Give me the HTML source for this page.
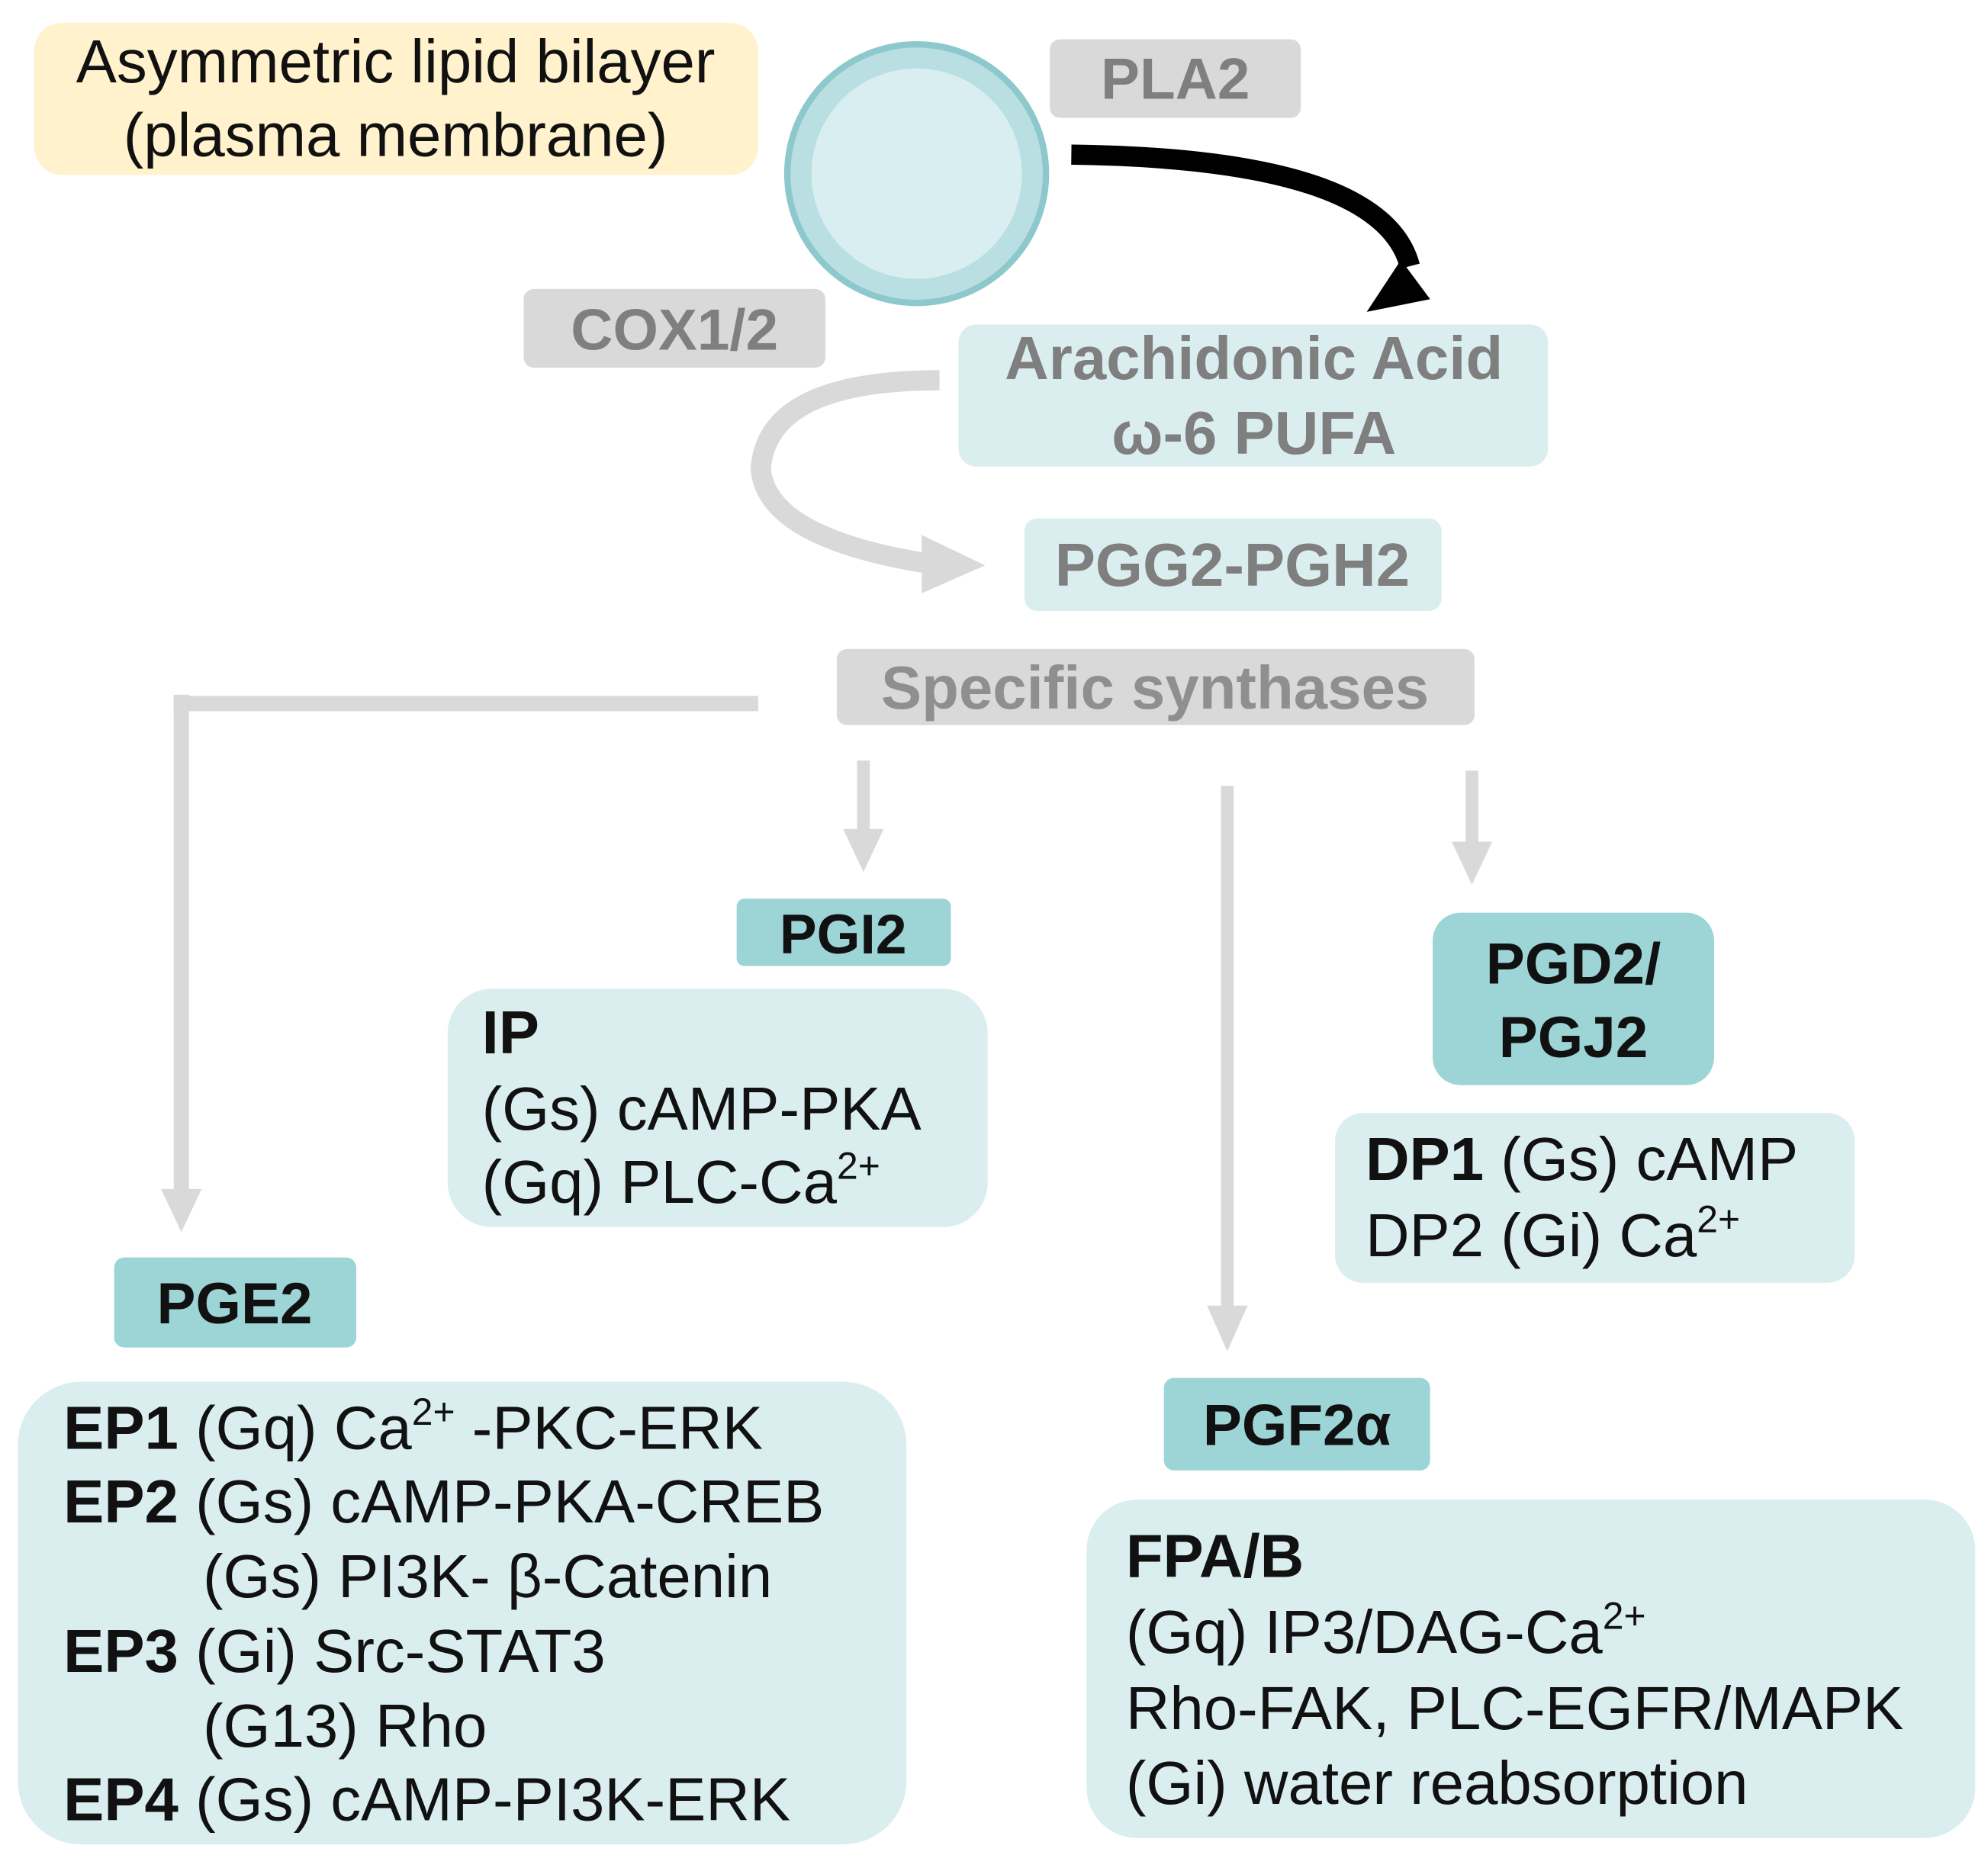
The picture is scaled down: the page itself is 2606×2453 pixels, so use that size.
<!DOCTYPE html>
<html><head><meta charset="utf-8"><style>html,body{margin:0;padding:0;background:#fff}svg{display:block}</style></head>
<body>
<svg width="2606" height="2453" viewBox="0 0 1568 1476" xmlns="http://www.w3.org/2000/svg" font-family="Liberation Sans, Arial, sans-serif">
<rect x="27" y="18" width="571" height="120" rx="22" fill="#fff2cc"/>
<text x="312" y="65" font-size="48" text-anchor="middle" fill="#111">Asymmetric lipid bilayer</text>
<text x="312" y="123" font-size="48" text-anchor="middle" fill="#111">(plasma membrane)</text>
<circle cx="723" cy="137" r="102" fill="#b9dfe2" stroke="#8cc8cc" stroke-width="5"/>
<circle cx="723" cy="137" r="83" fill="#d9eef0"/>
<rect x="828" y="31" width="198" height="62" rx="8" fill="#d9d9d9"/>
<text x="927" y="78" font-size="46" font-weight="bold" text-anchor="middle" fill="#7f7f7f">PLA2</text>
<path d="M845,122 Q1090,125 1112,210" fill="none" stroke="#000" stroke-width="16"/>
<polygon points="1078,246 1128,236 1105,205" fill="#000"/>
<rect x="413" y="228" width="238" height="62" rx="8" fill="#d9d9d9"/>
<text x="532" y="276" font-size="46" font-weight="bold" text-anchor="middle" fill="#7f7f7f">COX1/2</text>
<rect x="756" y="256" width="465" height="112" rx="14" fill="#daeef0"/>
<text x="989" y="299" font-size="48" font-weight="bold" text-anchor="middle" fill="#7f7f7f">Arachidonic Acid</text>
<text x="989" y="358" font-size="48" font-weight="bold" text-anchor="middle" fill="#7f7f7f">ω-6 PUFA</text>
<path d="M741,300 Q605,300 600,370 Q605,425 735,445" fill="none" stroke="#d9d9d9" stroke-width="16"/>
<polygon points="727,422 777,446 727,468" fill="#d9d9d9"/>
<rect x="808" y="409" width="329" height="73" rx="10" fill="#daeef0"/>
<text x="972" y="462" font-size="48" font-weight="bold" text-anchor="middle" fill="#7f7f7f">PGG2-PGH2</text>
<rect x="660" y="512" width="503" height="60" rx="8" fill="#d9d9d9"/>
<text x="911" y="559" font-size="48" font-weight="bold" text-anchor="middle" fill="#8f8f8f">Specific synthases</text>
<path d="M598,555 L143,555 L143,945" fill="none" stroke="#d9d9d9" stroke-width="12"/>
<line x1="143" y1="548" x2="143" y2="562" stroke="#d9d9d9" stroke-width="12"/>
<polygon points="127,938 159,938 143,972" fill="#d9d9d9"/>
<line x1="681" y1="600" x2="681" y2="660" stroke="#d9d9d9" stroke-width="10"/>
<polygon points="665,654 697,654 681,688" fill="#d9d9d9"/>
<line x1="968" y1="620" x2="968" y2="1035" stroke="#d9d9d9" stroke-width="10"/>
<polygon points="952,1030 984,1030 968,1066" fill="#d9d9d9"/>
<line x1="1161" y1="608" x2="1161" y2="670" stroke="#d9d9d9" stroke-width="10"/>
<polygon points="1145,664 1177,664 1161,698" fill="#d9d9d9"/>
<rect x="581" y="709" width="169" height="53" rx="6" fill="#9dd4d6"/>
<text x="665" y="752" font-size="44" font-weight="bold" text-anchor="middle" fill="#111">PGI2</text>
<rect x="353" y="780" width="426" height="188" rx="35" fill="#daeef0"/>
<g font-size="48" fill="#111">
<text x="380" y="831" font-weight="bold">IP</text>
<text x="380" y="891">(Gs) cAMP-PKA</text>
<text x="380" y="949">(Gq) PLC-Ca<tspan font-size="30" dy="-19">2+</tspan></text>
</g>
<rect x="1130" y="720" width="222" height="136" rx="22" fill="#9dd4d6"/>
<text x="1241" y="776" font-size="46" font-weight="bold" text-anchor="middle" fill="#111">PGD2/</text>
<text x="1241" y="834" font-size="46" font-weight="bold" text-anchor="middle" fill="#111">PGJ2</text>
<rect x="1053" y="878" width="410" height="134" rx="22" fill="#daeef0"/>
<g font-size="48" fill="#111">
<text x="1077" y="931"><tspan font-weight="bold">DP1</tspan> (Gs) cAMP</text>
<text x="1077" y="991">DP2 (Gi) Ca<tspan font-size="30" dy="-19">2+</tspan></text>
</g>
<rect x="90" y="992" width="191" height="71" rx="8" fill="#9dd4d6"/>
<text x="185" y="1044" font-size="46" font-weight="bold" text-anchor="middle" fill="#111">PGE2</text>
<rect x="14" y="1090" width="701" height="365" rx="50" fill="#daeef0"/>
<g font-size="48" fill="#111">
<text x="50" y="1143"><tspan font-weight="bold">EP1</tspan> (Gq) Ca<tspan font-size="30" dy="-19">2+</tspan><tspan dy="19"> -PKC-ERK</tspan></text>
<text x="50" y="1201"><tspan font-weight="bold">EP2</tspan> (Gs) cAMP-PKA-CREB</text>
<text x="160" y="1260">(Gs) PI3K- β-Catenin</text>
<text x="50" y="1319"><tspan font-weight="bold">EP3</tspan> (Gi)  Src-STAT3</text>
<text x="160" y="1378">(G13) Rho</text>
<text x="50" y="1436"><tspan font-weight="bold">EP4</tspan> (Gs) cAMP-PI3K-ERK</text>
</g>
<rect x="918" y="1087" width="210" height="73" rx="8" fill="#9dd4d6"/>
<text x="1023" y="1140" font-size="46" font-weight="bold" text-anchor="middle" fill="#111">PGF2α</text>
<rect x="857" y="1183" width="701" height="267" rx="40" fill="#daeef0"/>
<g font-size="48" fill="#111">
<text x="888" y="1244" font-weight="bold">FPA/B</text>
<text x="888" y="1304">(Gq) IP3/DAG-Ca<tspan font-size="30" dy="-19">2+</tspan></text>
<text x="888" y="1364">Rho-FAK, PLC-EGFR/MAPK</text>
<text x="888" y="1423">(Gi) water reabsorption</text>
</g>
</svg>
</body></html>
